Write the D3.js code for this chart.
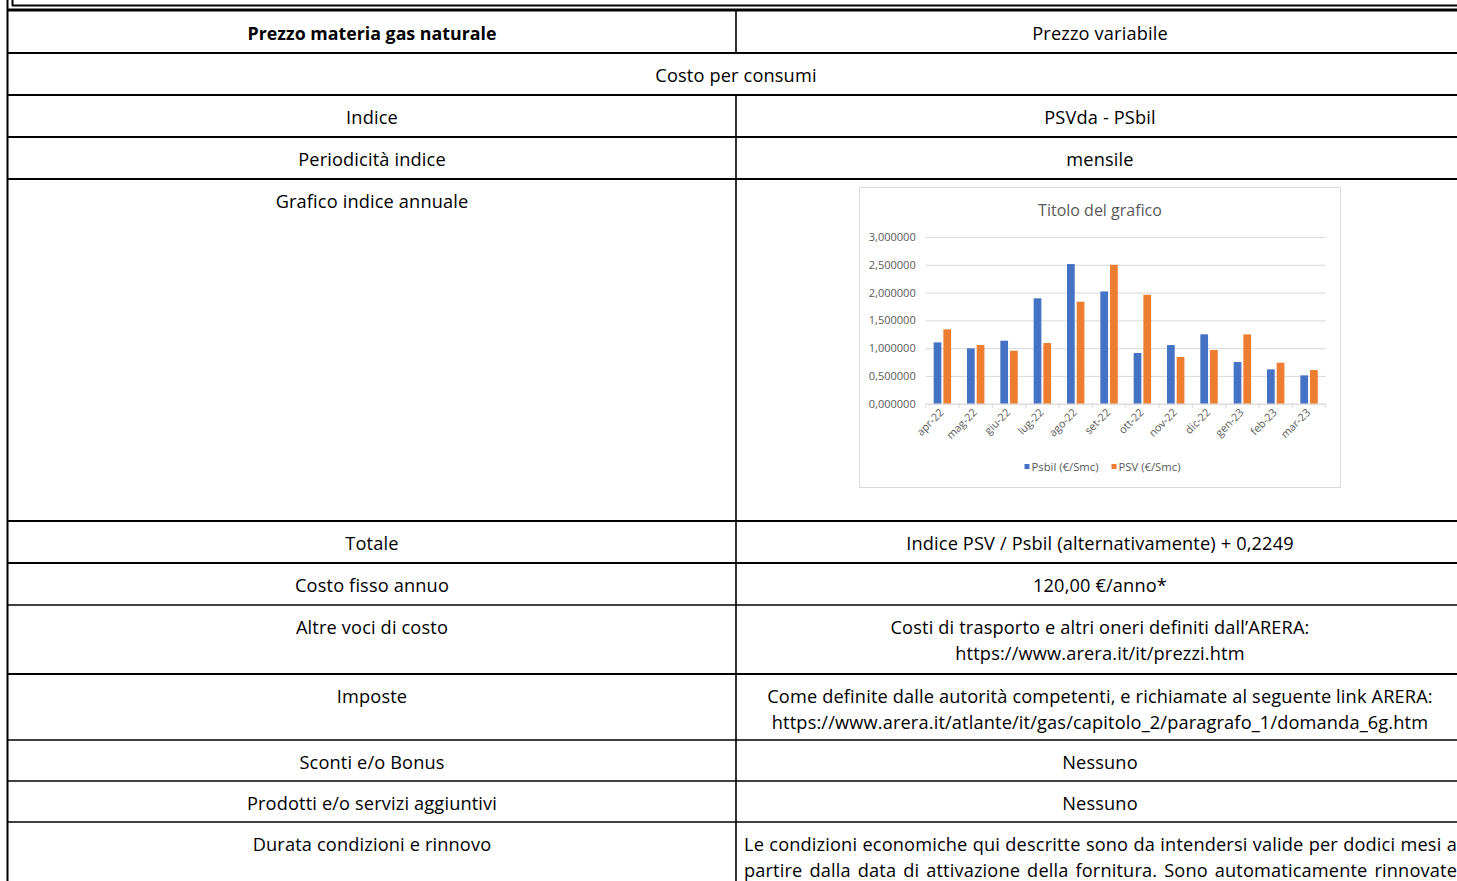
<!DOCTYPE html>
<html>
<head>
<meta charset="utf-8">
<script src="https://cdn.jsdelivr.net/npm/d3@7"></script>
<style>
  html, body { margin: 0; padding: 0; background: #fff; overflow: hidden; }
  svg { display: block; }
</style>
</head>
<body>
<svg id="page" width="1457" height="881"></svg>
<script>
// ---------- DATA ----------
const months = ["apr-22","mag-22","giu-22","lug-22","ago-22","set-22","ott-22","nov-22","dic-22","gen-23","feb-23","mar-23"];
const psbil  = [1.104, 0.996, 1.133, 1.896, 2.513, 2.020, 0.912, 1.056, 1.248, 0.750, 0.618, 0.510];
const psv    = [1.338, 1.056, 0.953, 1.092, 1.835, 2.500, 1.960, 0.840, 0.966, 1.248, 0.737, 0.606];
const yTicks = [0, 0.5, 1, 1.5, 2, 2.5, 3];
const seriesNames = ["Psbil (€/Smc)", "PSV (€/Smc)"];
const chartTitle = "Titolo del grafico";

const leftCells = ["Prezzo materia gas naturale", "", "Indice", "Periodicità indice", "Grafico indice annuale",
  "Totale", "Costo fisso annuo", "Altre voci di costo", "Imposte", "Sconti e/o Bonus",
  "Prodotti e/o servizi aggiuntivi", "Durata condizioni e rinnovo"];
const rightCells = [["Prezzo variabile"], ["Costo per consumi"], ["PSVda - PSbil"], ["mensile"], [],
  ["Indice PSV / Psbil (alternativamente) + 0,2249"], ["120,00 €/anno*"],
  ["Costi di trasporto e altri oneri definiti dall’ARERA:", "https://www.arera.it/it/prezzi.htm"],
  ["Come definite dalle autorità competenti, e richiamate al seguente link ARERA:", "https://www.arera.it/atlante/it/gas/capitolo_2/paragrafo_1/domanda_6g.htm"],
  ["Nessuno"], ["Nessuno"],
  ["Le condizioni economiche qui descritte sono da intendersi valide per dodici mesi a", "partire dalla data di attivazione della fornitura. Sono automaticamente rinnovate"]];

// ---------- LAYOUT ----------
const FONT = "'Open Sans', 'Noto Sans', sans-serif";
const FS = 18.2;
const LS = 0.15;
const rowEdges = [11, 53, 95, 137, 179, 521, 563, 605, 674, 740, 781, 822, 920];
const thickRows = [true, true, true, true, true, true, false, true, false, false, false, false, false];
const xL = 8, xM = 736, xR = 1464;

const svg = d3.select("#page");
const g = svg.append("g");

// top decorative lines
g.append("line").attr("x1", 7.5).attr("x2", 7.5).attr("y1", 0).attr("y2", 881).attr("stroke", "#000").attr("stroke-width", 2);
g.append("line").attr("x1", 12.5).attr("x2", 12.5).attr("y1", 0).attr("y2", 6).attr("stroke", "#000").attr("stroke-width", 2);
g.append("line").attr("x1", 12).attr("x2", 1457).attr("y1", 5.5).attr("y2", 5.5).attr("stroke", "#000").attr("stroke-width", 2);
g.append("line").attr("x1", 7).attr("x2", 1457).attr("y1", 10).attr("y2", 10).attr("stroke", "#000").attr("stroke-width", 3);

// row lines
rowEdges.slice(1, -1).forEach((y, i) => {
  g.append("line").attr("x1", xL).attr("x2", 1457).attr("y1", y).attr("y2", y)
    .attr("stroke", "#000").attr("stroke-width", thickRows[i] ? 2.2 : 1.3);
});
// middle divider (except spanning row 1)
rowEdges.slice(0, -1).forEach((y0, i) => {
  if (i === 1) return;
  g.append("line").attr("x1", xM).attr("x2", xM).attr("y1", y0).attr("y2", rowEdges[i + 1])
    .attr("stroke", "#000").attr("stroke-width", 1.6);
});

// cell texts
leftCells.forEach((t, i) => {
  if (!t) return;
  g.append("text").attr("x", (xL + xM) / 2).attr("y", rowEdges[i] + 28.5)
    .attr("text-anchor", "middle").attr("font-family", FONT)
    .attr("font-size", i === 0 ? 17.8 : FS).attr("letter-spacing", i === 0 ? 0 : LS)
    .attr("font-weight", i === 0 ? 700 : 400).attr("fill", "#000").text(t);
});
rightCells.forEach((lines, i) => {
  const cx = i === 1 ? (xL + xR) / 2 : (xM + xR) / 2;
  const justified = i === rightCells.length - 1;
  lines.forEach((t, k) => {
    const tx = g.append("text").attr("y", rowEdges[i] + 28.5 + k * 26)
      .attr("font-family", FONT).attr("font-size", FS).attr("letter-spacing", LS)
      .attr("fill", "#000").text(t);
    if (justified) {
      tx.attr("x", 744);
      const w = tx.node().getComputedTextLength();
      const spaces = (t.match(/ /g) || []).length;
      tx.attr("word-spacing", Math.max(0, (713 - w) / spaces));
    } else {
      tx.attr("x", cx).attr("text-anchor", "middle");
    }
  });
});

// ---------- CHART ----------
const cg = svg.append("g");
const CF = "'Open Sans', Lato, sans-serif";
const grey = "#595959";
cg.append("rect").attr("x", 859.5).attr("y", 187.5).attr("width", 481).attr("height", 300)
  .attr("fill", "#fff").attr("stroke", "#d9d9d9").attr("stroke-width", 1);
cg.append("text").attr("x", 1100).attr("y", 215.5).attr("text-anchor", "middle")
  .attr("font-family", CF).attr("font-size", 16).attr("fill", grey).text(chartTitle);

const x = d3.scaleBand().domain(months).range([925.7, 1325.7]);
const y = d3.scaleLinear().domain([0, 3]).range([403.7, 237]);
const x1 = d3.scaleBand().domain([0, 1]).range([0, x.bandwidth()]).paddingInner(0.206).paddingOuter(0.82);
const itLocale = d3.formatLocale({ decimal: ",", thousands: ".", grouping: [3], currency: ["€", ""] });
const fmt = itLocale.format(".6f");

// gridlines
const yAxis = d3.axisLeft(y).tickValues(yTicks).tickFormat(fmt).tickSize(-400).tickPadding(10);
const ya = cg.append("g").attr("transform", "translate(925.7,0)").call(yAxis);
ya.select(".domain").remove();
ya.selectAll(".tick line").attr("stroke", "#d9d9d9").attr("stroke-width", 1);
ya.selectAll(".tick text").attr("font-family", CF).attr("font-size", 11).attr("fill", grey);

// bars
const colors = ["#4472C4", "#ED7D31"];
[psbil, psv].forEach((vals, s) => {
  cg.append("g").selectAll("rect").data(vals).join("rect")
    .attr("x", (d, i) => x(months[i]) + x1(s))
    .attr("width", x1.bandwidth())
    .attr("y", d => y(d))
    .attr("height", d => y(0) - y(d))
    .attr("fill", colors[s]);
});

// x axis
const xAxis = d3.axisBottom(x).tickSize(0).tickPadding(0);
const xa = cg.append("g").attr("transform", `translate(0,${y(0)})`).call(xAxis);
xa.select(".domain").attr("stroke", "#d9d9d9");
xa.selectAll(".tick text").attr("font-family", CF).attr("font-size", 10.8).attr("fill", grey)
  .attr("text-anchor", "end").attr("dy", null)
  .attr("transform", "translate(2,9.5) rotate(-45)");
// category boundary ticks
cg.append("g").selectAll("line").data(months.concat(["end"])).join("line")
  .attr("x1", (d, i) => x.range()[0] + i * x.step()).attr("x2", (d, i) => x.range()[0] + i * x.step())
  .attr("y1", y(0)).attr("y2", y(0) + 4).attr("stroke", "#d9d9d9");

// legend
const lg = cg.append("g");
const legX = [1024.5, 1111.5];
seriesNames.forEach((n, i) => {
  lg.append("rect").attr("x", legX[i]).attr("y", 464).attr("width", 5).attr("height", 5).attr("fill", colors[i]);
  lg.append("text").attr("x", legX[i] + 7).attr("y", 471).attr("font-family", CF).attr("font-size", 11.3)
    .attr("fill", grey).text(n);
});
</script>
</body>
</html>
